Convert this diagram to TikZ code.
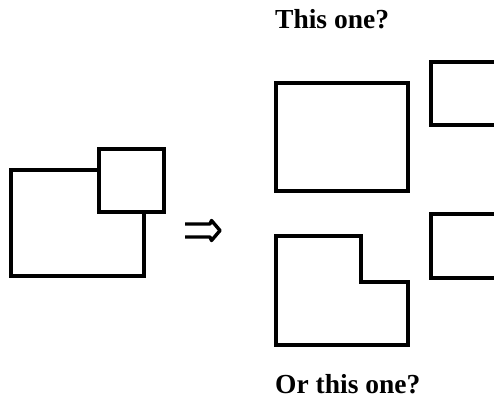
\documentclass[tikz,border=0pt]{standalone}
\usepackage{fontspec}
\setmainfont{Liberation Serif}
\begin{document}
\begin{tikzpicture}[x=1pt,y=-1pt,
  outline/.style={line width=4.8pt,line join=miter,line cap=rect},
  implies/.style={line width=3.4pt,line join=round,line cap=butt},
  caption/.style={anchor=base west,inner sep=0pt,font=\fontsize{27.5}{27.5}\selectfont\bfseries}]
  \useasboundingbox (0,0) rectangle (494,399);
  \clip (0,0) rectangle (494,399);

  % overlapping pair on the left: large rectangle partly hidden by a square
  \draw[outline] (99,170) -- (11,170) -- (11,276) -- (144,276) -- (144,212);
  \draw[outline] (99,149) rectangle (164,212);

  % implication arrow: two bars closed by an open head
  \coordinate (arrowtip) at (220,230.5);
  \draw[implies] (185,224) -- (210,224) -- (211.5,220.5) -- (arrowtip)
                 -- (211.5,240.5) -- (210,237) -- (185,237);

  % first reading: two whole rectangles
  \node[caption] (q1) at (275,28) {This one?};
  \draw[outline] (276,83) rectangle (408,191);
  \draw[outline] (520,62) -- (431,62) -- (431,125) -- (520,125);

  % second reading: an L-shaped piece and a rectangle
  \draw[outline] (276,236) -- (361,236) -- (361,282) -- (408,282)
                 -- (408,345) -- (276,345) -- cycle;
  \draw[outline] (520,214) -- (431,214) -- (431,278) -- (520,278);
  \node[caption] (q2) at (275,393) {Or this one?};
\end{tikzpicture}
\end{document}
